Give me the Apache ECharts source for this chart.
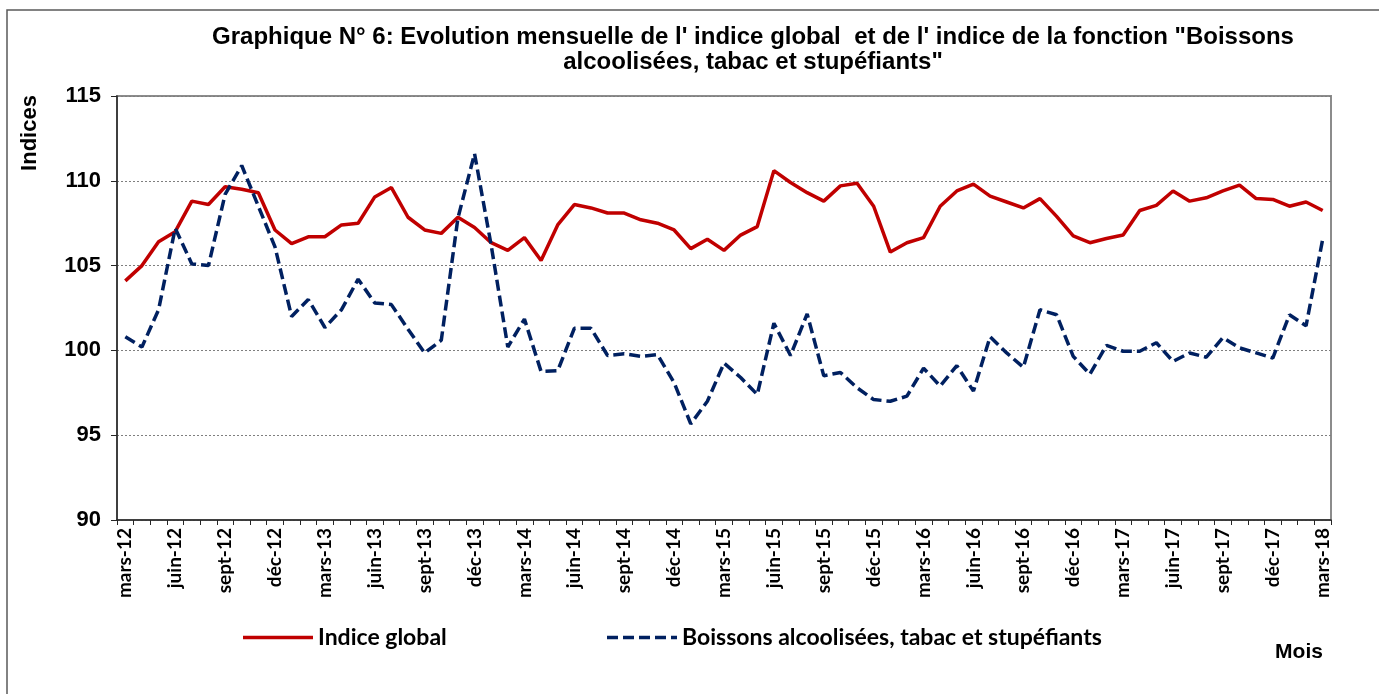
<!DOCTYPE html>
<html>
<head>
<meta charset="utf-8">
<script src="https://cdn.jsdelivr.net/npm/echarts@6/dist/echarts.min.js"></script>
<style>
html,body{margin:0;padding:0;background:#fff;}
#container{width:1379px;height:694px;}
</style>
</head>
<body>
<div id="container"></div>
<script>
var months = [
	'mars-12','avr-12','mai-12','juin-12','juil-12','août-12','sept-12','oct-12','nov-12','déc-12','janv-13','févr-13',
	'mars-13','avr-13','mai-13','juin-13','juil-13','août-13','sept-13','oct-13','nov-13','déc-13','janv-14','févr-14',
	'mars-14','avr-14','mai-14','juin-14','juil-14','août-14','sept-14','oct-14','nov-14','déc-14','janv-15','févr-15',
	'mars-15','avr-15','mai-15','juin-15','juil-15','août-15','sept-15','oct-15','nov-15','déc-15','janv-16','févr-16',
	'mars-16','avr-16','mai-16','juin-16','juil-16','août-16','sept-16','oct-16','nov-16','déc-16','janv-17','févr-17',
	'mars-17','avr-17','mai-17','juin-17','juil-17','août-17','sept-17','oct-17','nov-17','déc-17','janv-18','févr-18',
	'mars-18'
];

var indiceGlobal = [
	104.1, 105.0, 106.4, 107.0, 108.8, 108.6, 109.65, 109.5, 109.3, 107.1,
	106.3, 106.7, 106.7, 107.4, 107.5, 109.05, 109.6, 107.85, 107.1, 106.9,
	107.85, 107.25, 106.35, 105.9, 106.65, 105.3, 107.4, 108.6, 108.4, 108.1,
	108.1, 107.7, 107.5, 107.1, 106.0, 106.55, 105.9, 106.8, 107.3, 110.6,
	109.9, 109.3, 108.8, 109.7, 109.85, 108.5, 105.8, 106.35, 106.65, 108.5,
	109.4, 109.8, 109.1, 108.75, 108.4, 108.95, 107.9, 106.75, 106.35, 106.6,
	106.8, 108.25, 108.55, 109.4, 108.8, 109.0, 109.4, 109.75, 108.95, 108.9,
	108.5, 108.75, 108.25
];

var boissons = [
	100.8, 100.2, 102.4, 107.2, 105.1, 105.0, 109.2, 110.9, 108.5, 106.1,
	102.0, 103.0, 101.35, 102.4, 104.2, 102.8, 102.7, 101.25, 99.85, 100.6,
	107.8, 111.6, 106.2, 100.2, 101.85, 98.76, 98.8, 101.3, 101.3, 99.7,
	99.8, 99.65, 99.75, 98.1, 95.67, 97.0, 99.25, 98.4, 97.4, 101.6,
	99.7, 102.15, 98.5, 98.7, 97.8, 97.1, 97.0, 97.3, 98.95, 97.9,
	99.1, 97.6, 100.8, 99.85, 99.0, 102.4, 102.1, 99.65, 98.6, 100.3,
	99.95, 99.95, 100.45, 99.35, 99.85, 99.6, 100.75, 100.15, 99.85, 99.55,
	102.1, 101.45, 106.55
];

var seriesNames = ['Indice global', 'Boissons alcoolisées, tabac et stupéfiants'];
var titleText = 'Graphique N° 6: Evolution mensuelle de l\' indice global  et de l\' indice de la fonction "Boissons\nalcoolisées, tabac et stupéfiants"';

var myChart = echarts.init(document.getElementById('container'));

var legendText = {fontFamily: 'Lato', fontWeight: 'bold', fontSize: 23, color: '#000'};
// legend icons drawn as plain paths: a solid bar and a row of dashes
var solidIcon = 'path://M0,0H70V3.5H0Z';
var dashIcon = 'path://M0,0H11V3.5H0Z M16,0H27V3.5H16Z M32,0H43V3.5H32Z M48,0H59V3.5H48Z M64,0H70V3.5H64Z';

myChart.setOption({
	backgroundColor: '#fff',
	animation: false,
	title: {
		text: titleText,
		left: 753,
		top: 25,
		padding: 0,
		textAlign: 'center',
		textStyle: {fontFamily: 'Liberation Sans', fontWeight: 'bold', fontSize: 24, lineHeight: 25, color: '#000'}
	},
	legend: [
		{
			data: [{name: seriesNames[0], icon: solidIcon}],
			left: 243, top: 626, padding: 0,
			itemWidth: 70, itemHeight: 24,
			textStyle: legendText
		},
		{
			data: [{name: seriesNames[1], icon: dashIcon}],
			left: 607, top: 626, padding: 0,
			itemWidth: 70, itemHeight: 24,
			textStyle: legendText
		}
	],
	grid: {
		left: 117, right: 48, top: 96, bottom: 174,
		show: true, borderColor: '#8c8c8c', borderWidth: 2
	},
	xAxis: {
		type: 'category',
		data: months,
		boundaryGap: true,
		axisLine: {lineStyle: {color: '#262626', width: 1.5}},
		axisTick: {show: true, interval: 0, length: 5, lineStyle: {color: '#262626'}},
		axisLabel: {
			interval: 2, rotate: 90, margin: 8,
			fontFamily: 'Lato', fontWeight: 'bold', fontSize: 19, color: '#000'
		},
		splitLine: {show: false}
	},
	yAxis: {
		type: 'value',
		min: 90, max: 115, interval: 5,
		axisLine: {show: true, lineStyle: {color: '#262626', width: 1.5}},
		axisTick: {show: true, length: 6, lineStyle: {color: '#262626'}},
		axisLabel: {margin: 16, fontFamily: 'Liberation Sans', fontWeight: 'bold', fontSize: 22, color: '#000'},
		splitLine: {show: true, lineStyle: {color: '#7f7f7f', type: [2, 2], width: 1}}
	},
	graphic: [
		{
			type: 'rect', silent: true, z: -1,
			shape: {x: 7, y: 10, width: 1400, height: 720},
			style: {fill: 'none', stroke: '#595959', lineWidth: 1.5}
		},
		{
			type: 'text', x: 30, y: 133, rotation: Math.PI / 2,
			style: {text: 'Indices', align: 'center', verticalAlign: 'middle',
				font: 'bold 22px "Liberation Sans"', fill: '#000'}
		},
		{
			type: 'text', x: 1299, y: 652,
			style: {text: 'Mois', align: 'center', verticalAlign: 'middle',
				font: 'bold 21px "Liberation Sans"', fill: '#000'}
		}
	],
	series: [
		{
			name: seriesNames[0],
			type: 'line',
			data: indiceGlobal,
			symbol: 'none',
			lineStyle: {color: '#c00000', width: 3.5},
			itemStyle: {color: '#c00000'}
		},
		{
			name: seriesNames[1],
			type: 'line',
			data: boissons,
			symbol: 'none',
			lineStyle: {color: '#002060', width: 3.5, type: [11, 5]},
			itemStyle: {color: '#002060'}
		}
	]
});
</script>
</body>
</html>
